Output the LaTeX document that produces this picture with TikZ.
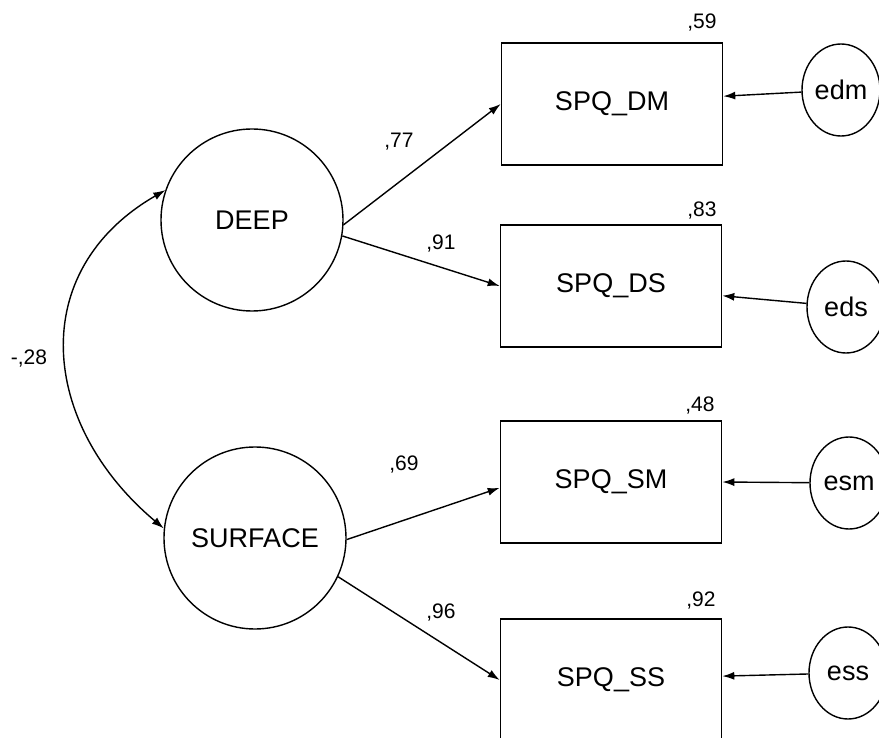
\documentclass[tikz,border=0pt]{standalone}
\usepackage{fontspec}
\setmainfont{Liberation Sans}
\usetikzlibrary{arrows.meta,shapes.geometric}

\tikzset{
  latent/.style={circle, draw, line width=0.7pt, minimum size=91pt, inner sep=0pt, font=\fontsize{13.5}{16}\selectfont},
  observed/.style={rectangle, draw, line width=0.8pt, minimum width=110.5pt, minimum height=61pt, font=\fontsize{13.5}{16}\selectfont},
  error/.style={ellipse, draw, line width=0.7pt, minimum width=39pt, minimum height=46pt, inner sep=0pt, font=\fontsize{13.5}{16}\selectfont},
  coef/.style={inner sep=0pt, font=\fontsize{10.5}{12}\selectfont},
  regr/.style={line width=0.7pt, -{Latex[length=6pt,width=4pt]}},
  cov/.style={line width=0.7pt, {Latex[length=6pt,width=4pt]}-{Latex[length=6pt,width=4pt]}}
}

\begin{document}
\begin{tikzpicture}[x=0.5pt, y=-0.5pt]
        \useasboundingbox (0,0) rectangle (879,738);

        % latent factors
        \node[latent] (deep) at (252,220) {DEEP};
        \node[latent] (surface) at (255,538) {SURFACE};

        % observed scales
        \node[observed] (dm) at (612,104) {SPQ\_DM};
        \node[observed] (ds) at (611,286) {SPQ\_DS};
        \node[observed] (sm) at (611,482) {SPQ\_SM};
        \node[observed] (ss) at (611,680) {SPQ\_SS};

        % error terms
        \node[error] (edm) at (841,90) {edm};
        \node[error] (eds) at (846,307) {eds};
        \node[error] (esm) at (849,483) {esm};
        \node[error] (ess) at (848,673) {ess};

        % loadings
        \draw[regr] (deep.-3) -- (dm.west);
        \draw[regr] (deep.-10) -- (ds.west);
        \draw[regr] (surface.-1) -- (sm.183);
        \draw[regr] (surface.-25) -- (ss.west);

        % errors
        \draw[regr] (edm) -- (dm.4);
        \draw[regr] (eds) -- (ds.-5);
        \draw[regr] (esm) -- (sm.east);
        \draw[regr] (ess) -- (ss.2);

        % correlation
        \draw[cov] (deep.161) to[out=210, in=140, looseness=1.22] (surface.174);

        % estimates
        \node[coef] (l77) at (399,142) {,77};
        \node[coef] (l91) at (441,244) {,91};
        \node[coef] (l69) at (404,465) {,69};
        \node[coef] (l96) at (441,613) {,96};
        \node[coef] (l28) at (29,359) {-,28};
        \node[coef] (r59) at (702,23) {,59};
        \node[coef] (r83) at (702,211) {,83};
        \node[coef] (r48) at (700,406) {,48};
        \node[coef] (r92) at (701,601) {,92};
    \end{tikzpicture}
\end{document}
